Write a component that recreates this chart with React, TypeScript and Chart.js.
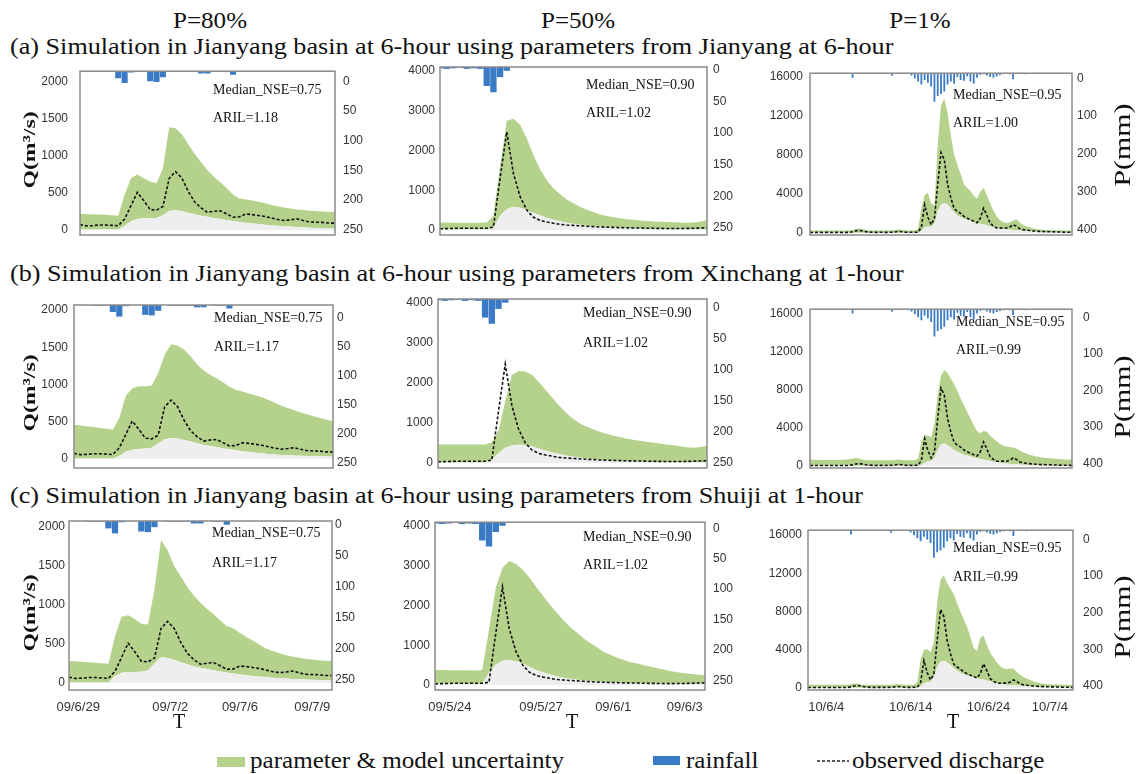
import React, { useEffect, useRef } from "react";
import { Chart, registerables } from "chart.js";
Chart.register(...registerables);

// ---------------- DATA ----------------
// Column 1 (P=80%) event, 41 steps
const col1Obs = [75, 58, 62, 70, 70, 65, 60, 150, 330, 510, 400, 280, 270, 320, 700, 790, 700, 520, 380, 300, 240, 255, 262, 220, 175, 180, 218, 210, 198, 185, 165, 145, 131, 140, 153, 130, 112, 108, 105, 96, 95];
const col1Rain = [0, 0, 0, 1, 1, 1, 12, 20, 2, 0, 0, 17, 18, 10, 0, 1, 1, 1, 1, 4, 4, 0, 1, 1, 6, 0, 0, 0, 0, 0, 0, 0, 0, 0, 0, 0, 0, 0, 0, 0, 0];
const a1Upper = [218, 216, 214, 212, 208, 202, 196, 480, 700, 750, 700, 655, 633, 830, 1389, 1375, 1290, 1157, 1026, 917, 808, 720, 646, 568, 480, 428, 415, 400, 384, 362, 340, 323, 306, 293, 280, 271, 262, 258, 253, 249, 245];
const a1Lower = [10, 10, 10, 10, 10, 10, 10, 60, 120, 150, 160, 160, 165, 200, 260, 270, 255, 235, 215, 195, 180, 165, 150, 138, 125, 112, 100, 90, 82, 74, 66, 60, 54, 48, 43, 38, 34, 30, 27, 24, 22];
const b1Upper = [460, 450, 440, 430, 415, 405, 395, 550, 850, 950, 975, 975, 985, 1150, 1400, 1540, 1520, 1470, 1380, 1270, 1190, 1130, 1085, 1030, 970, 930, 905, 880, 855, 830, 795, 755, 715, 685, 655, 625, 600, 575, 550, 525, 505];
const b1Lower = [5, 5, 5, 5, 5, 5, 5, 40, 100, 125, 135, 140, 150, 210, 265, 280, 275, 255, 235, 210, 190, 175, 160, 145, 130, 118, 105, 95, 85, 76, 68, 60, 55, 50, 46, 42, 40, 38, 36, 35, 34];
const c1Upper = [282, 278, 272, 265, 258, 252, 248, 600, 850, 868, 820, 760, 750, 1200, 1838, 1700, 1500, 1370, 1230, 1120, 1030, 950, 880, 800, 730, 700, 640, 590, 540, 490, 440, 410, 380, 355, 340, 325, 312, 302, 292, 285, 280];
const c1Lower = [5, 5, 5, 5, 5, 5, 5, 90, 130, 140, 140, 145, 160, 250, 333, 320, 295, 265, 240, 215, 195, 178, 162, 148, 135, 122, 110, 98, 90, 82, 74, 67, 61, 56, 52, 48, 44, 41, 38, 35, 33];
const col1TickPos = [1.4, 15.4, 26, 37];
const col1TickLabels = ["09/6/29", "09/7/2", "09/7/6", "09/7/9"];

// Column 2 (P=50%) event, 41 steps
const col2Obs = [30, 35, 40, 45, 45, 45, 45, 45, 70, 1300, 2470, 1420, 840, 500, 320, 240, 200, 170, 140, 125, 115, 105, 95, 85, 75, 70, 65, 60, 55, 52, 50, 45, 42, 40, 38, 36, 38, 40, 45, 50, 55];
const col2Rain = [2, 3, 2, 1, 3, 2, 3, 30, 40, 16, 6, 0, 0, 0, 0, 0, 0, 0, 0, 0, 0, 0, 0, 0, 0, 0, 0, 0, 0, 0, 0, 0, 0, 0, 0, 0, 0, 0, 0, 0, 0];
const a2Upper = [190, 190, 185, 185, 185, 185, 185, 190, 350, 1600, 2750, 2800, 2650, 2300, 1880, 1520, 1250, 1050, 900, 770, 670, 580, 510, 450, 390, 350, 320, 295, 270, 255, 240, 228, 215, 205, 198, 192, 188, 185, 190, 205, 250];
const a2Lower = [10, 10, 10, 10, 10, 10, 10, 10, 60, 350, 530, 585, 560, 500, 430, 370, 310, 260, 220, 185, 155, 130, 110, 95, 84, 72, 62, 54, 48, 42, 38, 34, 30, 28, 26, 24, 22, 20, 20, 20, 20];
const b2Upper = [460, 460, 460, 460, 460, 460, 460, 460, 520, 800, 1550, 2200, 2300, 2290, 2200, 2020, 1830, 1630, 1440, 1260, 1120, 1000, 910, 850, 780, 730, 690, 650, 610, 580, 555, 530, 505, 485, 465, 445, 420, 395, 380, 400, 430];
const b2Lower = [10, 10, 10, 10, 10, 10, 10, 10, 80, 250, 380, 440, 458, 450, 410, 360, 310, 265, 225, 190, 160, 135, 115, 95, 80, 68, 58, 50, 44, 38, 34, 30, 28, 25, 23, 22, 20, 20, 20, 20, 20];
const c2Upper = [380, 380, 375, 375, 370, 370, 365, 380, 1400, 2450, 2950, 3120, 3050, 2900, 2700, 2470, 2250, 2030, 1830, 1640, 1460, 1320, 1180, 1060, 950, 830, 760, 690, 630, 575, 540, 500, 460, 420, 385, 350, 320, 295, 275, 260, 255];
const c2Lower = [30, 30, 30, 30, 30, 30, 30, 30, 300, 520, 610, 625, 600, 540, 460, 380, 320, 265, 220, 185, 160, 135, 115, 100, 88, 78, 70, 62, 56, 50, 46, 42, 40, 38, 36, 35, 34, 33, 32, 32, 32];
const col2TickPos = [2.2, 15.7, 26.4, 37];
const col2TickLabels = ["09/5/24", "09/5/27", "09/6/1", "09/6/3"];

// Column 3 (P=1%) event, 81 steps
const col3Obs = [60, 55, 60, 60, 55, 60, 60, 55, 60, 60, 55, 60, 65, 120, 220, 270, 200, 140, 100, 70, 65, 70, 70, 65, 70, 80, 110, 170, 130, 90, 70, 70, 75, 80, 600, 2880, 1600, 850, 1500, 5000, 8200, 7500, 5000, 3600, 2500, 2200, 2000, 1700, 1500, 1350, 1200, 1050, 1500, 2540, 1800, 1000, 700, 520, 500, 520, 510, 600, 850, 700, 450, 340, 300, 260, 220, 190, 170, 150, 140, 130, 120, 110, 100, 90, 80, 75, 70];
const col3Rain = [0, 0, 0, 0, 0, 0, 0, 0, 0, 0, 0, 0, 0, 12, 0, 0, 0, 0, 0, 0, 0, 0, 0, 0, 0, 7, 0, 0, 0, 0, 0, 6, 14, 22, 30, 18, 25, 35, 75, 60, 55, 48, 30, 22, 28, 10, 18, 20, 8, 22, 28, 12, 4, 3, 6, 10, 12, 8, 5, 3, 2, 3, 16, 0, 0, 0, 3, 0, 0, 0, 0, 0, 0, 0, 0, 0, 0, 0, 0, 0, 0];
const a3Upper = [250, 250, 250, 250, 250, 250, 250, 250, 250, 250, 250, 250, 250, 300, 400, 450, 400, 320, 280, 250, 250, 250, 250, 250, 250, 250, 300, 380, 320, 270, 250, 250, 250, 400, 2500, 3900, 4100, 3000, 2800, 9000, 13000, 13700, 12300, 10000, 8000, 7000, 6000, 5000, 4600, 4300, 3800, 3500, 4200, 4600, 3900, 3000, 2300, 1700, 1300, 1100, 1020, 1100, 1250, 1400, 1100, 850, 700, 580, 480, 400, 350, 330, 310, 300, 290, 280, 270, 260, 250, 245, 240];
const a3Lower = [30, 30, 30, 30, 30, 30, 30, 30, 30, 30, 30, 30, 30, 30, 30, 30, 30, 30, 30, 30, 30, 30, 30, 30, 30, 30, 30, 30, 30, 30, 30, 30, 30, 30, 200, 600, 650, 650, 1000, 2200, 2900, 3050, 2900, 2500, 2100, 1800, 1600, 1450, 1350, 1250, 1100, 1000, 950, 900, 800, 700, 580, 500, 450, 400, 350, 320, 300, 280, 260, 240, 200, 170, 140, 120, 100, 90, 80, 70, 60, 55, 50, 45, 40, 35, 30];
const b3Upper = [680, 670, 660, 650, 650, 650, 650, 650, 650, 650, 660, 680, 720, 780, 850, 800, 700, 650, 600, 600, 600, 600, 600, 600, 600, 600, 650, 700, 650, 600, 600, 600, 600, 800, 2500, 3250, 3200, 3050, 4500, 7500, 9500, 10100, 9800, 9200, 8600, 7900, 7100, 6400, 5700, 5000, 4300, 3700, 3450, 3700, 3600, 3200, 2900, 2600, 2350, 2150, 2050, 2000, 1960, 1850, 1650, 1450, 1350, 1200, 1100, 1000, 950, 900, 850, 820, 790, 760, 740, 720, 700, 690, 680];
const b3Lower = [30, 30, 30, 30, 30, 30, 30, 30, 30, 30, 30, 30, 30, 30, 30, 30, 30, 30, 30, 30, 30, 30, 30, 30, 30, 30, 30, 30, 30, 30, 30, 30, 30, 30, 150, 350, 500, 550, 900, 1700, 2300, 2370, 2200, 1950, 1700, 1500, 1350, 1200, 1100, 1000, 900, 820, 750, 680, 600, 520, 450, 400, 350, 300, 260, 230, 200, 180, 160, 140, 120, 100, 90, 80, 70, 65, 60, 55, 50, 45, 40, 38, 35, 32, 30];
const c3Upper = [340, 340, 340, 340, 340, 340, 340, 340, 340, 340, 340, 340, 340, 400, 500, 450, 380, 340, 340, 340, 340, 340, 340, 340, 340, 340, 380, 430, 380, 340, 340, 340, 340, 600, 3000, 4000, 4050, 3750, 4800, 9000, 11300, 11800, 11000, 10400, 9800, 8900, 8000, 7200, 6400, 5400, 4200, 3900, 5200, 5500, 4500, 3700, 3200, 2700, 2300, 2050, 2000, 2050, 2050, 1700, 1400, 1180, 1000, 850, 700, 600, 500, 460, 430, 400, 380, 370, 360, 350, 345, 340, 335];
const c3Lower = [30, 30, 30, 30, 30, 30, 30, 30, 30, 30, 30, 30, 30, 30, 30, 30, 30, 30, 30, 30, 30, 30, 30, 30, 30, 30, 30, 30, 30, 30, 30, 30, 30, 30, 200, 500, 600, 650, 1100, 2200, 2750, 2860, 2700, 2400, 2100, 1800, 1600, 1450, 1300, 1200, 1100, 1000, 950, 900, 800, 700, 600, 520, 460, 400, 350, 320, 300, 270, 240, 210, 180, 150, 130, 110, 100, 90, 80, 70, 60, 55, 50, 45, 40, 35, 30];
const col3TickPos = [5.5, 31, 54.5, 73];
const col3TickLabels = ["10/6/4", "10/6/14", "10/6/24", "10/7/4"];

// axis tick values
const qTicks80 = [0, 500, 1000, 1500, 2000];
const qTicks50 = [0, 1000, 2000, 3000, 4000];
const qTicks1 = [0, 4000, 8000, 12000, 16000];
const pTicks250 = [0, 50, 100, 150, 200, 250];
const pTicks400 = [0, 100, 200, 300, 400];

// text
const headers = ["P=80%", "P=50%", "P=1%"];
const rowTitles = [
  "(a) Simulation in Jianyang basin at 6-hour using parameters from Jianyang at 6-hour",
  "(b) Simulation in Jianyang basin at 6-hour using parameters from Xinchang at 1-hour",
  "(c) Simulation in Jianyang basin at 6-hour using parameters from Shuiji at 1-hour",
];
const medianNSE = [["0.75", "0.90", "0.95"], ["0.75", "0.90", "0.95"], ["0.75", "0.90", "0.95"]];
const aril = [["1.18", "1.02", "1.00"], ["1.17", "1.02", "0.99"], ["1.17", "1.02", "0.99"]];

// ---------------- LAYOUT (positions / styles) ----------------
const boxes = [
  [80, 66, 335, 235], [440, 67, 707, 235], [810, 73, 1072, 235],
  [74, 305, 333, 468], [438, 299, 707, 468], [810, 305, 1072, 468],
  [69, 521, 332, 690], [435, 521, 705, 690], [808, 527, 1073, 690],
];
const qRange = [
  [-65, 2144], [-126, 4101], [-204, 16306],
  [-121, 2067], [-125, 4100], [-205, 16513],
  [-90, 2077], [-125, 4100], [-205, 16513],
];
const pMaxes = [276, 266, 426, 281, 273, 435, 273, 276, 435];
const pOffsets = [10, 3, 5, 13, 9, 8, 4, 6, 9];
const qPads = [12, 5, 7, 6, 5, 7, 4, 5, 6];
const pPads = [8, 6, 5, 4, 6, 11, 3, 8, 10];
const barPctByCol = [0.95, 0.95, 0.55];
const annotPos = [
  [213, 90, 118], [586, 85, 113], [953, 95, 123],
  [214, 318, 347], [583, 313, 343], [956, 322, 350],
  [212, 533, 563], [583, 537, 565], [953, 548, 577],
];
const headerX = [210, 578, 920];
const titleY = [46, 273, 495];
const qLabelY = [150, 393, 613];
const pLabelY = [145, 397, 617];
const tX = [179, 572, 953];

const GREEN = "#b4d28c";
const GREY = "#eeeeee";
const BLUE = "#3b7ac4";
const SERIF = '"Liberation Serif", "Times New Roman", serif';
const SANS = '"Liberation Sans", Arial, sans-serif';

const PADL = 60, PADR = 50, PADT = 14, PADB = 34;

const seriesByPanel = [
  [col1Obs, col1Rain, a1Upper, a1Lower], [col2Obs, col2Rain, a2Upper, a2Lower], [col3Obs, col3Rain, a3Upper, a3Lower],
  [col1Obs, col1Rain, b1Upper, b1Lower], [col2Obs, col2Rain, b2Upper, b2Lower], [col3Obs, col3Rain, b3Upper, b3Lower],
  [col1Obs, col1Rain, c1Upper, c1Lower], [col2Obs, col2Rain, c2Upper, c2Lower], [col3Obs, col3Rain, c3Upper, c3Lower],
];
const qTicksByCol = [qTicks80, qTicks50, qTicks1];
const pTicksByCol = [pTicks250, pTicks250, pTicks400];
const xTickPosByCol = [col1TickPos, col2TickPos, col3TickPos];
const xTickLabelsByCol = [col1TickLabels, col2TickLabels, col3TickLabels];

const boxPlugin = {
  id: "boxFrame",
  afterDatasetsDraw(chart: any) {
    const { ctx, chartArea } = chart;
    const { left, top, right, bottom } = chartArea;
    ctx.save();
    ctx.strokeStyle = "#8a8a8a";
    ctx.lineWidth = 1.5;
    ctx.strokeRect(left, top, right - left, bottom - top);
    ctx.restore();
  },
};

function Panel({ idx }: { idx: number }) {
  const ref = useRef<HTMLCanvasElement>(null);
  const row = Math.floor(idx / 3);
  const col = idx % 3;
  const [l, t, r, b] = boxes[idx];
  const W = r - l + PADL + PADR;
  const H = b - t + PADT + PADB;

  useEffect(() => {
    const [obs, rain, upper, lower] = seriesByPanel[idx];
    const n = obs.length;
    const pts = (arr: number[]) => arr.map((v, i) => ({ x: i, y: v }));
    const showX = row === 2;
    const xPos = xTickPosByCol[col];
    const xLab = xTickLabelsByCol[col];
    const chart = new Chart(ref.current as HTMLCanvasElement, {
      type: "line",
      data: {
        datasets: [
          { type: "line", data: pts(obs), borderColor: "#111", borderWidth: 1.6, borderDash: [3, 2], pointRadius: 0, fill: false, tension: 0, yAxisID: "y", order: 0 } as any,
          { type: "bar", data: pts(rain), backgroundColor: BLUE, borderWidth: 0, barPercentage: barPctByCol[col], categoryPercentage: 1, yAxisID: "y2", order: 1 } as any,
          { type: "line", data: pts(lower), borderWidth: 0, pointRadius: 0, backgroundColor: GREY, fill: "origin", tension: 0, yAxisID: "y", order: 2 } as any,
          { type: "line", data: pts(upper), borderWidth: 0, pointRadius: 0, backgroundColor: GREEN, fill: "-1", tension: 0, yAxisID: "y", order: 3 } as any,
        ],
      },
      options: {
        animation: false,
        responsive: false,
        devicePixelRatio: 1,
        events: [],
        layout: { padding: { top: PADT, left: 0, right: 0, bottom: 0 } },
        plugins: { legend: { display: false }, tooltip: { enabled: false } },
        scales: {
          x: {
            type: "linear", min: 0, max: n - 1, offset: false, position: "bottom",
            grid: { display: false, drawTicks: false, offset: false }, border: { display: false },
            afterBuildTicks: (s: any) => { s.ticks = xPos.map((v) => ({ value: v })); },
            ticks: {
              display: showX, autoSkip: false, maxRotation: 0, padding: 10, color: "#333",
              font: { family: SANS, size: 13 },
              callback: (_v: any, i: number) => xLab[i],
            },
            afterFit: (s: any) => { s.height = PADB; },
          },
          y: {
            type: "linear", position: "left", min: qRange[idx][0], max: qRange[idx][1],
            grid: { display: false, drawTicks: false }, border: { display: false },
            afterBuildTicks: (s: any) => { s.ticks = qTicksByCol[col].map((v) => ({ value: v })); },
            ticks: { autoSkip: false, padding: qPads[idx], color: "#333", font: { family: SANS, size: 12 }, callback: (v: any) => String(v) },
            afterFit: (s: any) => { s.width = PADL; },
          },
          y2: {
            type: "linear", position: "right", reverse: true, min: 0, max: pMaxes[idx],
            grid: { display: false, drawTicks: false }, border: { display: false },
            afterBuildTicks: (s: any) => { s.ticks = pTicksByCol[col].map((v) => ({ value: v })); },
            ticks: { autoSkip: false, padding: pPads[idx], labelOffset: pOffsets[idx], color: "#333", font: { family: SANS, size: 12 }, callback: (v: any) => String(v) },
            afterFit: (s: any) => { s.width = PADR; },
          },
        },
      } as any,
      plugins: [boxPlugin],
    });
    return () => chart.destroy();
  }, [idx]);

  return (
    <canvas
      ref={ref}
      width={W}
      height={H}
      style={{ position: "absolute", left: l - PADL, top: t - PADT, width: W, height: H, display: "block" }}
    />
  );
}

const centered = (x: number, y: number, extra: React.CSSProperties = {}): React.CSSProperties => ({
  position: "absolute", left: x, top: y, transform: "translate(-50%, -50%)", whiteSpace: "nowrap", lineHeight: 1, ...extra,
});

export default function App() {
  return (
    <div style={{ position: "absolute", left: 0, top: 0, width: 1137, height: 774, background: "#fff", overflow: "hidden", color: "#111" }}>
      {headers.map((h, i) => (
        <div key={"h" + i} style={centered(headerX[i], 20, { fontFamily: SERIF, fontSize: 23, transform: "translate(-50%, -50%) scaleX(1.09)" })}>{h}</div>
      ))}
      {rowTitles.map((tt, i) => (
        <div key={"t" + i} style={{ position: "absolute", left: 10, top: titleY[i], transform: "translateY(-50%) scaleX(1.09)", transformOrigin: "left center", whiteSpace: "nowrap", lineHeight: 1, fontFamily: SERIF, fontSize: 24 }}>{tt}</div>
      ))}
      {boxes.map((_, i) => <Panel key={"p" + i} idx={i} />)}
      {annotPos.map((p, i) => {
        const row = Math.floor(i / 3), col = i % 3;
        return (
          <React.Fragment key={"a" + i}>
            <div style={{ position: "absolute", left: p[0], top: p[1], transform: "translateY(-50%)", lineHeight: 1, whiteSpace: "nowrap", fontFamily: SERIF, fontSize: 14 }}>{"Median_NSE=" + medianNSE[row][col]}</div>
            <div style={{ position: "absolute", left: p[0], top: p[2], transform: "translateY(-50%)", lineHeight: 1, whiteSpace: "nowrap", fontFamily: SERIF, fontSize: 14 }}>{"ARIL=" + aril[row][col]}</div>
          </React.Fragment>
        );
      })}
      {qLabelY.map((y, i) => (
        <div key={"q" + i} style={centered(29, y, { fontFamily: SERIF, fontSize: 17, fontWeight: "bold", transform: "translate(-50%, -50%) rotate(-90deg) scale(1.4, 1)" })}>Q(m³/s)</div>
      ))}
      {pLabelY.map((y, i) => (
        <div key={"pm" + i} style={centered(1122, y, { fontFamily: SERIF, fontSize: 23, transform: "translate(-50%, -50%) rotate(-90deg) scale(1.3, 1)" })}>P(mm)</div>
      ))}
      {tX.map((x, i) => (
        <div key={"T" + i} style={centered(x, 721, { fontFamily: SERIF, fontSize: 20 })}>T</div>
      ))}
      {/* legend */}
      <div style={{ position: "absolute", left: 217, top: 757, width: 28, height: 10, background: GREEN }} />
      <div style={{ position: "absolute", left: 250, top: 760, transform: "translateY(-50%) scaleX(1.09)", transformOrigin: "left center", lineHeight: 1, whiteSpace: "nowrap", fontFamily: SERIF, fontSize: 23 }}>parameter &amp; model uncertainty</div>
      <div style={{ position: "absolute", left: 653, top: 756, width: 27, height: 9, background: BLUE }} />
      <div style={{ position: "absolute", left: 686, top: 760, transform: "translateY(-50%) scaleX(1.09)", transformOrigin: "left center", lineHeight: 1, whiteSpace: "nowrap", fontFamily: SERIF, fontSize: 23 }}>rainfall</div>
      <svg style={{ position: "absolute", left: 817, top: 758 }} width={32} height={6}>
        <line x1={0} y1={3} x2={32} y2={3} stroke="#222" strokeWidth={1.5} strokeDasharray="3,2" />
      </svg>
      <div style={{ position: "absolute", left: 852, top: 760, transform: "translateY(-50%) scaleX(1.09)", transformOrigin: "left center", lineHeight: 1, whiteSpace: "nowrap", fontFamily: SERIF, fontSize: 23 }}>observed discharge</div>
    </div>
  );
}
